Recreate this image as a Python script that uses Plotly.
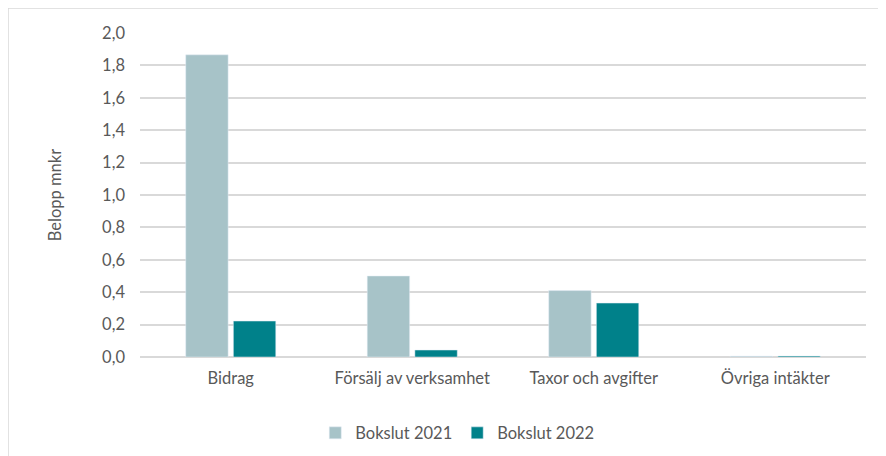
import plotly.graph_objects as go

categories = ["Bidrag", "Försälj av verksamhet", "Taxor och avgifter", "Övriga intäkter"]
bokslut_2021 = [1.865, 0.50, 0.41, 0.005]
bokslut_2022 = [0.222, 0.043, 0.333, 0.006]
y_ticks = [0.0, 0.2, 0.4, 0.6, 0.8, 1.0, 1.2, 1.4, 1.6, 1.8, 2.0]

font_family = "Lato, Open Sans, sans-serif"
text_color = "#595959"
fs = 16.5

fig = go.Figure()
fig.add_trace(go.Bar(x=categories, y=bokslut_2021, name="Bokslut 2021",
                     marker_color="#a7c3c8"))
fig.add_trace(go.Bar(x=categories, y=bokslut_2022, name="Bokslut 2022",
                     marker_color="#00818a"))

fig.update_layout(
    width=886, height=456,
    margin=dict(l=132, r=28, t=25, b=107),
    paper_bgcolor="white", plot_bgcolor="white",
    separators=", ",
    barmode="group", bargap=0.475, bargroupgap=0.11,
    font=dict(family=font_family, size=fs, color=text_color),
    legend=dict(orientation="h", x=0.437, xanchor="center", y=-0.235, yanchor="middle",
                font=dict(size=fs, color=text_color), itemwidth=30),
    showlegend=True,
)
fig.update_yaxes(
    range=[0, 2.0], tickvals=y_ticks, tickformat=".1f",
    showgrid=True, gridcolor="#d9d9d9", gridwidth=1.5,
    zeroline=True, zerolinecolor="#d9d9d9", zerolinewidth=1.5,
    showline=False, ticks="", ticklabelstandoff=14,
    title=dict(text="Belopp mnkr", standoff=36, font=dict(size=fs, color=text_color)),
)
fig.update_xaxes(showline=False, ticks="", ticklabelstandoff=9)

# chart area frame
fig.add_shape(type="rect", xref="paper", yref="paper",
              x0=-0.1818, x1=1.0386, y0=-0.33, y1=1.0772,
              line=dict(color="#d9d9d9", width=1.5), fillcolor="rgba(0,0,0,0)")

fig.write_html("out.html")
